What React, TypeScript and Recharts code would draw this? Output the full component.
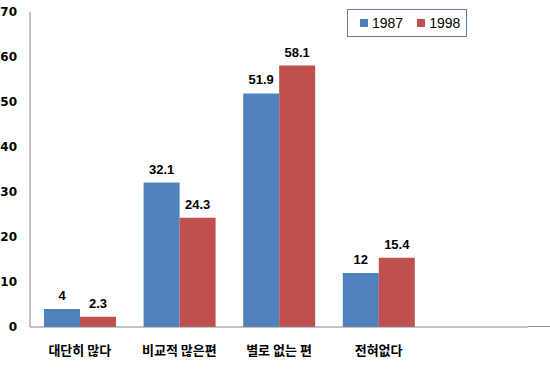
import { BarChart, Bar, XAxis, YAxis, LabelList } from 'recharts';

const categories = ['대단히 많다', '비교적 많은편', '별로 없는 편', '전혀없다', ''];
const values1987 = [4, 32.1, 51.9, 12, null];
const values1998 = [2.3, 24.3, 58.1, 15.4, null];
const yTicks = [0, 10, 20, 30, 40, 50, 60, 70];
const seriesNames = ['1987', '1998'];

const COLORS = {
  y1987: '#4F81BD',
  y1998: '#C0504D',
  axis: '#868686',
};

const data = categories.map((name, i) => ({
  name,
  y1987: values1987[i],
  y1998: values1998[i],
}));

const labelStyle = { fill: '#000', fontSize: 13, fontWeight: 700, fontFamily: 'Liberation Sans, Arial, sans-serif' };

function ChartLegend() {
  return (
    <div
      style={{
        position: 'absolute',
        left: 347,
        top: 9,
        width: 120,
        height: 28,
        border: '1px solid #5B7FB0',
        boxSizing: 'border-box',
        display: 'flex',
        alignItems: 'center',
        fontFamily: 'Liberation Sans, Arial, sans-serif',
        fontSize: 14,
        color: '#000',
      }}
    >
      <span style={{ width: 8, height: 8, background: COLORS.y1987, marginLeft: 12, marginRight: 4 }} />
      <span>{seriesNames[0]}</span>
      <span style={{ width: 8, height: 8, background: COLORS.y1998, marginLeft: 14, marginRight: 4 }} />
      <span>{seriesNames[1]}</span>
    </div>
  );
}

export default function App() {
  return (
    <div style={{ position: 'absolute', left: 0, top: 0, width: 550, height: 383, background: '#fff' }}>
      <BarChart
        width={550}
        height={383}
        data={data}
        margin={{ top: 12, right: 22, left: 0, bottom: 26 }}
        barGap={0}
        barSize={36}
      >
        <XAxis
          dataKey="name"
          height={30}
          tickLine={false}
          axisLine={{ stroke: COLORS.axis }}
          tickMargin={13}
          interval={0}
          tick={{ fill: '#000', fontSize: 13, fontWeight: 700, fontFamily: 'Noto Sans CJK KR, sans-serif' }}
        />
        <YAxis
          width={30}
          domain={[0, 70]}
          ticks={yTicks}
          tickLine={false}
          tickSize={0}
          tickMargin={13}
          axisLine={{ stroke: COLORS.axis }}
          tick={{ fill: '#000', fontSize: 12, fontWeight: 700, fontFamily: 'DejaVu Sans, sans-serif' }}
        />
        <Bar dataKey="y1987" name={seriesNames[0]} fill={COLORS.y1987} isAnimationActive={false}>
          <LabelList dataKey="y1987" position="top" offset={9} style={labelStyle} />
        </Bar>
        <Bar dataKey="y1998" name={seriesNames[1]} fill={COLORS.y1998} isAnimationActive={false}>
          <LabelList dataKey="y1998" position="top" offset={9} style={labelStyle} />
        </Bar>
      </BarChart>
      <ChartLegend />
      <div style={{ position: 'absolute', left: 528, top: 326, width: 22, height: 1, background: COLORS.axis }} />
    </div>
  );
}
